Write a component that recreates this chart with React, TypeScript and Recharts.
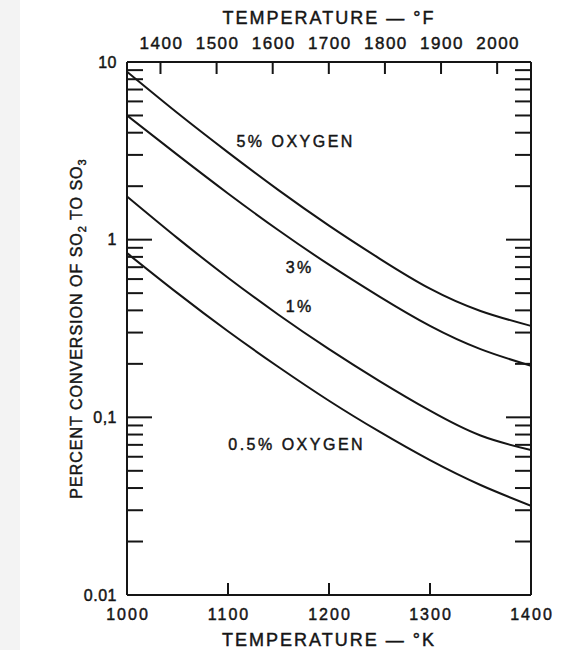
import React from 'react';
import { LineChart, Line, XAxis, YAxis, ReferenceDot, Label } from 'recharts';

// ---------- data ----------
const temperaturesK = [1000, 1050, 1100, 1150, 1200, 1250, 1300, 1350, 1400];
const oxygen5 = [8.81, 5.16, 3.1, 1.9, 1.2, 0.783, 0.53, 0.397, 0.327];
const oxygen3 = [5.0, 3.0, 1.82, 1.13, 0.723, 0.478, 0.327, 0.242, 0.195];
const oxygen1 = [1.75, 1.02, 0.611, 0.378, 0.242, 0.16, 0.109, 0.079, 0.0655];
const oxygen05 = [0.84, 0.5, 0.305, 0.192, 0.124, 0.083, 0.0574, 0.0416, 0.0318];

const bottomTicksK = [1000, 1100, 1200, 1300, 1400];
const topTicksF = [1400, 1500, 1600, 1700, 1800, 1900, 2000];
const yDecades = [0.01, 0.1, 1];
const yMultipliers = [1, 2, 3, 4, 5, 6, 7, 8, 9];
const yTickLabels: Record<string, string> = { '0.01': '0.01', '0.1': '0,1', '1': '1', '10': '10' };

const curveLabels = [
  { text: '5% OXYGEN', k: 1167, v: 3.57 },
  { text: '3%', k: 1171, v: 0.697 },
  { text: '1%', k: 1171, v: 0.423 },
  { text: '0.5% OXYGEN', k: 1168, v: 0.0708 },
];

// ---------- derived ----------
const data = temperaturesK.map((t, i) => ({
  t,
  o5: oxygen5[i],
  o3: oxygen3[i],
  o1: oxygen1[i],
  o05: oxygen05[i],
}));
const yTicks = [
  ...yDecades.flatMap((d) => yMultipliers.map((m) => +(d * m).toPrecision(2))),
  10,
];
const fToK = (f: number) => ((f - 32) * 5) / 9 + 273.15;
const kToF = (k: number) => Math.round(((k - 273.15) * 9) / 5 + 32);
const topTicksK = topTicksF.map(fToK);

// ---------- style ----------
const INK = '#151515';
const FONT = '"Liberation Sans", Arial, Helvetica, sans-serif';
const AXIS_LINE = { stroke: INK, strokeWidth: 2 };
const TEXT_STYLE = { fontFamily: FONT, fill: INK, stroke: INK, strokeWidth: 0.45 };

function LeftTick(props: any) {
  const { x, y, payload } = props;
  const label = yTickLabels[String(payload.value)];
  const major = label !== undefined;
  return (
    <g>
      <line x1={x} y1={y} x2={x + (major ? 25 : 16)} y2={y} stroke={INK} strokeWidth={2} />
      {major && (
        <text x={x - 10} y={y} dy="0.36em" textAnchor="end" fontSize={16} letterSpacing={0.5} {...TEXT_STYLE}>
          {label}
        </text>
      )}
    </g>
  );
}

function RightTick(props: any) {
  const { x, y, payload } = props;
  const major = yTickLabels[String(payload.value)] !== undefined;
  return <line x1={x - (major ? 25 : 16)} y1={y} x2={x} y2={y} stroke={INK} strokeWidth={2} />;
}

function BottomTick(props: any) {
  const { x, y, payload } = props;
  const v = payload.value;
  const inner = v !== bottomTicksK[0] && v !== bottomTicksK[bottomTicksK.length - 1];
  return (
    <g>
      {inner && <line x1={x} y1={y} x2={x} y2={y - 12} stroke={INK} strokeWidth={2} />}
      <text x={x + 1} y={y + 25} textAnchor="middle" fontSize={16} letterSpacing={2} {...TEXT_STYLE}>
        {v}
      </text>
    </g>
  );
}

function TopTick(props: any) {
  const { x, y, payload } = props;
  return (
    <g>
      <line x1={x} y1={y} x2={x} y2={y + 12} stroke={INK} strokeWidth={2} />
      <text x={x + 1} y={y - 13} textAnchor="middle" fontSize={17} letterSpacing={1.5} {...TEXT_STYLE}>
        {kToF(payload.value)}
      </text>
    </g>
  );
}

export default function App() {
  return (
    <div style={{ position: 'absolute', left: 0, top: 0, width: 565, height: 650, background: '#ffffff' }}>
      <div style={{ position: 'absolute', left: 0, top: 0, width: 20, height: 650, background: '#f3f3f3' }} />
      <LineChart
        width={565}
        height={650}
        data={data}
        margin={{ top: 0, right: 0, bottom: 0, left: 0 }}
        style={{ position: 'absolute', left: 0, top: 0 }}
      >
        <XAxis
          xAxisId="bottom"
          dataKey="t"
          type="number"
          domain={[1000, 1400]}
          ticks={bottomTicksK}
          interval={0}
          height={55}
          orientation="bottom"
          axisLine={AXIS_LINE}
          tickLine={false}
          tickSize={0}
          tickMargin={0}
          tick={BottomTick}
          allowDataOverflow
        >
          <Label
            content={(p: any) => {
              const vb = p.viewBox;
              return (
                <text x={vb.x + vb.width / 2} y={vb.y + 51} textAnchor="middle" fontSize={18} letterSpacing={2} {...TEXT_STYLE}>
                  TEMPERATURE — °K
                </text>
              );
            }}
          />
        </XAxis>
        <XAxis
          xAxisId="top"
          dataKey="t"
          type="number"
          domain={[1000, 1400]}
          ticks={topTicksK}
          interval={0}
          height={62}
          orientation="top"
          axisLine={AXIS_LINE}
          tickLine={false}
          tickSize={0}
          tickMargin={0}
          tick={TopTick}
          allowDataOverflow
        >
          <Label
            content={(p: any) => {
              const vb = p.viewBox;
              return (
                <text x={vb.x + vb.width / 2} y={vb.y + 24} textAnchor="middle" fontSize={18} letterSpacing={2} {...TEXT_STYLE}>
                  TEMPERATURE — °F
                </text>
              );
            }}
          />
        </XAxis>
        <YAxis
          yAxisId="left"
          type="number"
          scale="log"
          domain={[0.01, 10]}
          ticks={yTicks}
          interval={0}
          width={127}
          axisLine={AXIS_LINE}
          tickLine={false}
          tickSize={0}
          tickMargin={0}
          tick={LeftTick}
          allowDataOverflow
        >
          <Label
            content={(p: any) => {
              const vb = p.viewBox;
              const cx = vb.x + 76;
              const cy = vb.y + vb.height / 2;
              return (
                <text
                  x={cx}
                  y={cy}
                  dy="0.36em"
                  transform={`rotate(-90 ${cx} ${cy})`}
                  textAnchor="middle"
                  fontSize={16}
                  letterSpacing={1}
                  {...TEXT_STYLE}
                >
                  PERCENT CONVERSION OF SO
                  <tspan dy={4} fontSize={11}>2</tspan>
                  <tspan dy={-4}> TO SO</tspan>
                  <tspan dy={4} fontSize={11}>3</tspan>
                </text>
              );
            }}
          />
        </YAxis>
        <YAxis
          yAxisId="right"
          orientation="right"
          type="number"
          scale="log"
          domain={[0.01, 10]}
          ticks={yTicks}
          interval={0}
          width={34}
          axisLine={AXIS_LINE}
          tickLine={false}
          tickSize={0}
          tickMargin={0}
          tick={RightTick}
          allowDataOverflow
        />
        {(['o5', 'o3', 'o1', 'o05'] as const).map((k) => (
          <Line
            key={k}
            xAxisId="bottom"
            yAxisId="left"
            dataKey={k}
            type="natural"
            stroke={INK}
            strokeWidth={2}
            dot={false}
            activeDot={false}
            isAnimationActive={false}
          />
        ))}
        <Line
          xAxisId="top"
          yAxisId="right"
          dataKey="o5"
          type="natural"
          stroke="none"
          strokeWidth={0}
          dot={false}
          activeDot={false}
          legendType="none"
          isAnimationActive={false}
        />
        {curveLabels.map((c) => (
          <ReferenceDot
            key={c.text}
            xAxisId="bottom"
            yAxisId="left"
            x={c.k}
            y={c.v}
            r={0}
            shape={(p: any) => (
              <text x={p.cx} y={p.cy} dy="0.36em" textAnchor="middle" fontSize={16} letterSpacing={2.5} {...TEXT_STYLE}>
                {c.text}
              </text>
            )}
          />
        ))}
      </LineChart>
    </div>
  );
}
